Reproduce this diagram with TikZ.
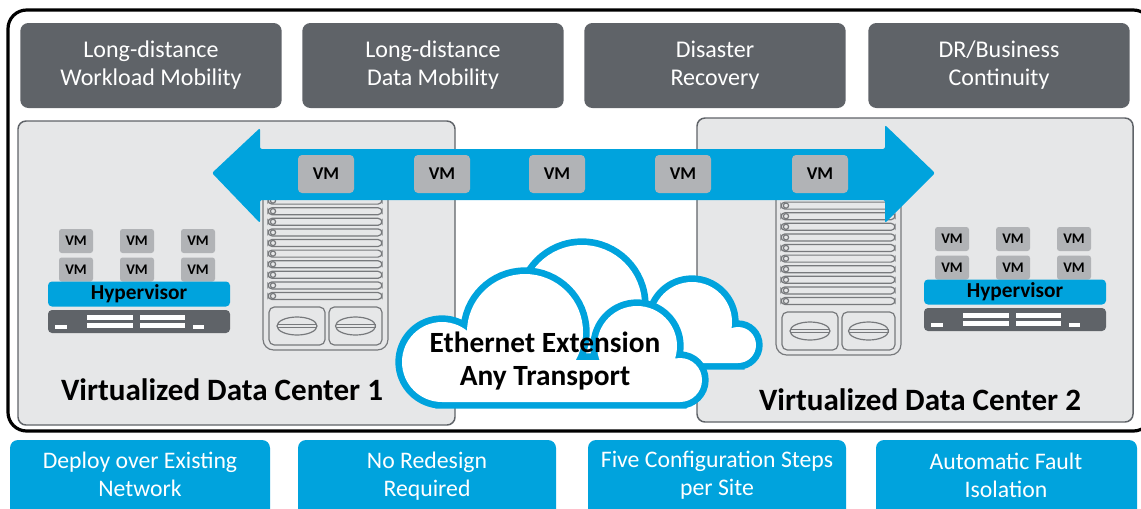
\documentclass[tikz,border=0pt]{standalone}
\usepackage{fontspec}
\setmainfont{Carlito}

\definecolor{hpgrey}{HTML}{5F6368}
\definecolor{hpblue}{HTML}{00A3DD}
\definecolor{vmgrey}{HTML}{B1B3B6}
\definecolor{dcfill}{HTML}{E6E7E8}
\definecolor{rackline}{HTML}{77797C}

\tikzset{every picture/.style={line width=0.75pt},
  topbox/.style={fill=hpgrey, text=white, rounded corners=6pt, minimum width=196pt, minimum height=63.75pt, inner sep=0pt, align=center, font=\fontsize{18}{21}\selectfont},
  basebox/.style={fill=hpblue, rounded corners=6pt},
  basetext/.style={text=white, inner sep=0pt, align=center, font=\fontsize{17.8}{21}\selectfont},
  dcbox/.style={fill=dcfill, draw=hpgrey, line width=1.1pt, rounded corners=6pt},
  dclabel/.style={inner sep=0pt, font=\fontsize{23.3}{26}\selectfont\bfseries},
  rack/.style={draw=rackline, line width=0.9pt},
  vmbig/.style={fill=vmgrey, rounded corners=3pt, minimum width=42pt, minimum height=28.5pt, inner sep=0pt, font=\fontsize{13.5}{15}\selectfont\bfseries},
  vmsmall/.style={fill=vmgrey, rounded corners=2pt, minimum width=25.5pt, minimum height=18pt, inner sep=0pt, font=\fontsize{11}{13}\selectfont\bfseries},
  hypervisor/.style={fill=hpblue, rounded corners=3pt, minimum width=136.5pt, minimum height=18.75pt, inner sep=0pt, font=\fontsize{16}{18}\selectfont\bfseries},
  cloudedge/.style={draw=hpblue, line width=10pt},
  cloudbody/.style={fill=white},
  cloudtext/.style={inner sep=0pt, align=center, font=\fontsize{22}{25}\selectfont\bfseries}
}

\begin{document}
\begin{tikzpicture}[x=0.75pt,y=0.75pt,yscale=-1,xscale=1]
\useasboundingbox (0,0) rectangle (1141,508);

% outer frame
\draw[line width=2.4pt, rounded corners=14pt] (8,10) rectangle (1152,431);

% use cases on top
\node[topbox] (workload) at (151,65.5) {Long-distance\\Workload Mobility};
\node[topbox] (datamob) at (433,65.5) {Long-distance\\Data Mobility};
\node[topbox] (disaster) at (715,65.5) {Disaster\\Recovery};
\node[topbox] (business) at (999,65.5) {DR/Business\\Continuity};

% the two data centers
\draw[dcbox] (18,121) rectangle (455,425);
\draw[dcbox] (697,118) rectangle (1133,422);

% tower servers
\foreach \tx/\ty in {263/150, 776/155} {
  \begin{scope}[shift={(\tx,\ty)}]
    \draw[rack, rounded corners=8pt] (0,0) rectangle (125,200);
    \foreach \sy in {146,135.4,...,5} {
      \draw[rack, rounded corners=3pt] (5,\sy-3.5) rectangle (119,\sy+3.5);
      \draw[rack] (10,\sy) circle[radius=2.6];
    }
    \draw[rack, rounded corners=4pt] (6,195) -- (6,157) -- (62,157) -- (62,195) -- cycle;
    \draw[rack, rounded corners=4pt] (66,195) -- (66,157) -- (119,157) -- (119,195) -- cycle;
    \foreach \ex in {34,92.5} {
      \draw[rack] (\ex,176) ellipse[x radius=20, y radius=9];
      \draw[rack] (\ex-20,174.5) -- (\ex+20,174.5);
      \draw[rack] (\ex-20,177.5) -- (\ex+20,177.5);
    }
  \end{scope}
}

% hosts with VMs on a hypervisor
\foreach \n/\hx/\hy in {1/48/229, 2/924/227} {
  \begin{scope}[shift={(\hx,\hy)}]
    \foreach \c/\cx in {1/28, 2/89, 3/150}
      \foreach \r/\ry in {1/12, 2/40.5}
        \node[vmsmall] (vm\n-\c\r) at (\cx,\ry) {VM};
    \node[hypervisor] (hyp\n) at (91,65) {Hypervisor};
    \fill[hpgrey, rounded corners=3pt] (0,81) rectangle (182,104);
    \fill[white] (7,96) rectangle (19,100);
    \fill[white] (39,86) rectangle (85,91);
    \fill[white] (39,94) rectangle (85,99);
    \fill[white] (92,86) rectangle (137,91);
    \fill[white] (92,94) rectangle (137,99);
    \fill[white] (145,96) rectangle (156,100);
  \end{scope}
}

% double arrow carrying the VMs
\fill[hpblue, rounded corners=1.5pt] (212,173) -- (260,128) -- (260,149) -- (885,149) -- (885,125)
  -- (935,173) -- (885,223) -- (885,200) -- (260,200) -- (260,223) -- cycle;
\foreach \vx [count=\k] in {326,442,557,683,820}
  \node[vmbig] (move\k) at (\vx,174) {VM};

% back cloud (rectangle corners given so it winds like the circles)
\foreach \look in {cloudedge, cloudbody}
  \path[\look] (582,305) circle[radius=60] (692,322) circle[radius=40]
    (738,345) circle[radius=18] (738,330) rectangle (582,363);
% front cloud
\foreach \look in {cloudedge, cloudbody}
  \path[\look] (442,362) circle[radius=40] (525,332) circle[radius=58]
    (637,346) circle[radius=40] (680,380) circle[radius=22] (680,360) rectangle (442,402);
\node[cloudtext] (transport) at (545,361) {Ethernet Extension\\Any Transport};

% data center names
\node[dclabel] (dc1) at (222,390) {Virtualized Data Center 1};
\node[dclabel] (dc2) at (920,400) {Virtualized Data Center 2};

% benefits at the bottom
\fill[basebox] (10,440) rectangle (270,530);
\fill[basebox] (298,440) rectangle (556,530);
\fill[basebox] (588,440) rectangle (846,530);
\fill[basebox] (876,440) rectangle (1137,530);
\node[basetext] (deploy) at (140,474) {Deploy over Existing\\Network};
\node[basetext] (redesign) at (427,476) {No Redesign\\Required};
\node[basetext] (steps) at (717,475) {Five Configuration Steps\\per Site};
\node[basetext] (fault) at (1006,475) {Automatic Fault\\Isolation};

\end{tikzpicture}
\end{document}
